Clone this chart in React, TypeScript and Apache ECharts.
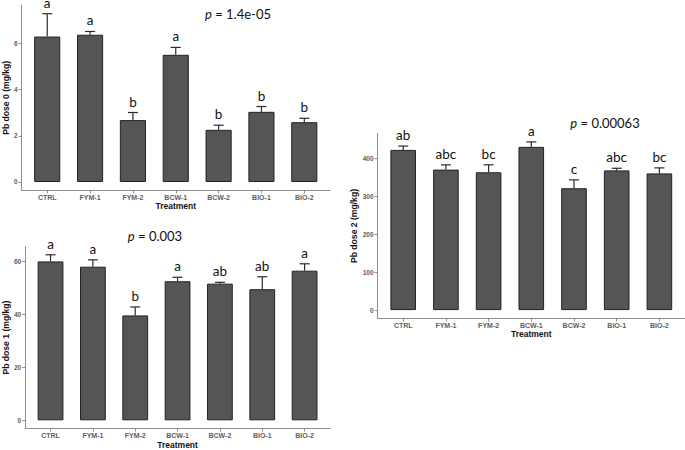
import React, { useEffect, useRef } from "react";
import * as echarts from "echarts";

const categories = ["CTRL", "FYM-1", "FYM-2", "BCW-1", "BCW-2", "BIO-1", "BIO-2"];

const dose0Mean = [6.3, 6.38, 2.68, 5.51, 2.26, 3.04, 2.59];
const dose0SE = [0.99, 0.14, 0.33, 0.32, 0.2, 0.23, 0.17];
const dose0Letters = ["a", "a", "b", "a", "b", "b", "b"];
const dose0Ticks = [0, 2, 4, 6];

const dose1Mean = [60.0, 58.0, 39.6, 52.5, 51.6, 49.5, 56.5];
const dose1SE = [2.5, 2.6, 3.2, 1.5, 0.5, 4.7, 2.6];
const dose1Letters = ["a", "a", "b", "a", "ab", "ab", "a"];
const dose1Ticks = [0, 20, 40, 60];

const dose2Mean = [422, 370, 363, 430, 321, 368, 360];
const dose2SE = [10, 12.6, 19.6, 13, 22, 5.6, 14.6];
const dose2Letters = ["ab", "abc", "bc", "a", "c", "abc", "bc"];
const dose2Ticks = [0, 100, 200, 300, 400];

const pValues = ["1.4e-05", "0.003", "0.00063"];
const yTitles = ["Pb dose 0 (mg/kg)", "Pb dose 1 (mg/kg)", "Pb dose 2 (mg/kg)"];
const xTitle = "Treatment";

const panels = [
  { mean: dose0Mean, se: dose0SE, letters: dose0Letters, ticks: dose0Ticks },
  { mean: dose1Mean, se: dose1SE, letters: dose1Letters, ticks: dose1Ticks },
  { mean: dose2Mean, se: dose2SE, letters: dose2Letters, ticks: dose2Ticks },
];

const grids = [
  { left: 16.7, top: 5.3, width: 313.3, height: 185.1 },
  { left: 20.7, top: 246.5, width: 309.3, height: 185.1 },
  { left: 377.6, top: 133.5, width: 307.4, height: 185 },
];
const pPos = [
  [238, 14],
  [155, 236],
  [605, 123],
];

const AXIS_GRAY = "#8f8f8f";
const LABEL_GRAY = "#5e5e5e";

export default function App() {
  const ref = useRef<HTMLDivElement>(null);
  useEffect(() => {
    if (!ref.current) return;
    const chart = echarts.init(ref.current, null, { renderer: "svg" });
    const catIdx = categories.map((_, i) => i + 1);

    const xAxes: any[] = [];
    const yAxes: any[] = [];
    const series: any[] = [];

    panels.forEach((p, k) => {
      const maxUpper = Math.max(...p.mean.map((m, i) => m + p.se[i]));
      xAxes.push({
        type: "value",
        gridIndex: k,
        min: 0.4,
        max: 7.6,
        name: xTitle,
        nameLocation: "middle",
        nameGap: 11,
        nameTextStyle: { fontFamily: "Liberation Sans", fontWeight: "bold", fontSize: 8.5, color: "#111" },
        axisLine: { onZero: false, lineStyle: { color: AXIS_GRAY, width: 1 } },
        axisTick: { customValues: catIdx, length: 3, lineStyle: { color: AXIS_GRAY } },
        axisLabel: {
          customValues: catIdx,
          margin: 3.5,
          fontFamily: "Liberation Sans",
          fontWeight: "bold",
          fontSize: 7,
          color: LABEL_GRAY,
          formatter: (v: number) => categories[Math.round(v) - 1] ?? "",
        },
        splitLine: { show: false },
      });
      yAxes.push({
        type: "value",
        gridIndex: k,
        min: -0.05 * maxUpper,
        max: 1.05 * maxUpper,
        name: yTitles[k],
        nameLocation: "middle",
        nameGap: 8,
        nameTextStyle: { fontFamily: "Liberation Sans", fontWeight: "bold", fontSize: 8.6, color: "#111" },
        axisLine: { show: true, onZero: false, lineStyle: { color: AXIS_GRAY, width: 1 } },
        axisTick: { show: true, customValues: p.ticks, length: 3, lineStyle: { color: AXIS_GRAY } },
        axisLabel: {
          customValues: p.ticks,
          margin: 4,
          fontFamily: "Liberation Sans",
          fontWeight: "bold",
          fontSize: 6.5,
          color: LABEL_GRAY,
        },
        splitLine: { show: false },
      });
      const barWidth = (grids[k].width / 7.2) * 0.6;
      series.push({
        type: "bar",
        xAxisIndex: k,
        yAxisIndex: k,
        barWidth,
        data: p.mean.map((m, i) => [i + 1, m]),
        itemStyle: { color: "#555555", borderColor: "#222222", borderWidth: 1 },
      });
      const letters = p.letters;
      series.push({
        type: "custom",
        xAxisIndex: k,
        yAxisIndex: k,
        z: 5,
        data: p.mean.map((m, i) => [i + 1, m, p.se[i]]),
        encode: { x: 0, y: 1 },
        renderItem: (params: any, api: any) => {
          const x = api.value(0);
          const m = api.value(1);
          const s = api.value(2);
          const base = api.coord([x, m]);
          const top = api.coord([x, m + s]);
          const half = 5;
          return {
            type: "group",
            children: [
              {
                type: "line",
                shape: { x1: base[0], y1: base[1], x2: top[0], y2: top[1] },
                style: { stroke: "#2a2a2a", lineWidth: 1.2 },
              },
              {
                type: "line",
                shape: { x1: top[0] - half, y1: top[1], x2: top[0] + half, y2: top[1] },
                style: { stroke: "#2a2a2a", lineWidth: 1.2 },
              },
              {
                type: "text",
                style: {
                  text: letters[params.dataIndex],
                  x: top[0],
                  y: top[1] - 11,
                  align: "center",
                  verticalAlign: "middle",
                  fontFamily: "Lato",
                  fontSize: 13.5,
                  lineHeight: 4,
                  fill: "#111",
                },
              },
            ],
          };
        },
      });
    });

    const graphic = pValues.map((pv, k) => ({
      type: "text",
      x: pPos[k][0],
      y: pPos[k][1],
      style: {
        text: "{i|p} = " + pv,
        align: "center",
        verticalAlign: "middle",
        fontFamily: "Lato",
        fontSize: 13,
        fill: "#111",
        rich: {
          i: { fontFamily: "Lato", fontStyle: "italic", fontSize: 13, fill: "#111" },
        },
      },
    }));

    chart.setOption({
      animation: false,
      backgroundColor: "#ffffff",
      grid: grids.map((g) => ({ ...g, containLabel: false })),
      xAxis: xAxes,
      yAxis: yAxes,
      series,
      graphic,
    });
    return () => chart.dispose();
  }, []);
  return (
    <div
      ref={ref}
      style={{ position: "absolute", left: 0, top: 0, width: 685, height: 450 }}
    />
  );
}
